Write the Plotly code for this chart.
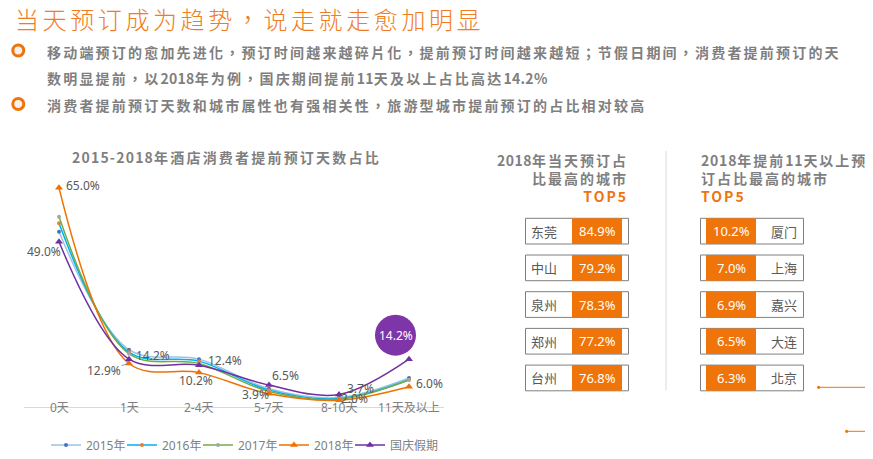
import re
import plotly.graph_objects as go

# ---------------- data ----------------
categories = ["0天", "1天", "2-4天", "5-7天", "8-10天", "11天及以上"]
series_names = ["2015年", "2016年", "2017年", "2018年", "国庆假期"]
v2015 = [52.0, 17.0, 14.2, 5.4, 2.8, 8.6]
v2016 = [54.5, 16.3, 13.6, 5.0, 2.5, 8.1]
v2017 = [56.4, 15.8, 12.9, 4.6, 2.3, 8.0]
v2018 = [65.0, 12.9, 10.2, 3.9, 2.0, 6.0]
v_holiday = [49.0, 14.2, 12.4, 6.5, 3.7, 14.2]

same_day_cities = ["东莞", "中山", "泉州", "郑州", "台州"]
same_day_share = [84.9, 79.2, 78.3, 77.2, 76.8]
early_cities = ["厦门", "上海", "嘉兴", "大连", "北京"]
early_share = [10.2, 7.0, 6.9, 6.5, 6.3]

page_title = "当天预订成为趋势，说走就走愈加明显"
bullet1_lines = ["移动端预订的愈加先进化，预订时间越来越碎片化，提前预订时间越来越短；节假日期间，消费者提前预订的天",
                 "数明显提前，以2018年为例，国庆期间提前11天及以上占比高达14.2%"]
bullet2_lines = ["消费者提前预订天数和城市属性也有强相关性，旅游型城市提前预订的占比相对较高"]
chart_title = "2015-2018年酒店消费者提前预订天数占比"
panel1_title = ["2018年当天预订占", "比最高的城市", "TOP5"]
panel2_title = ["2018年提前11天以上预", "订占比最高的城市", "TOP5"]

# ---------------- layout constants ----------------
# the page body has an 8px margin, so the figure is drawn 8px in from the top-left
OFF = 8
PAGE_W, PAGE_H = 873, 459
W, H = PAGE_W - OFF, PAGE_H - OFF
PL, PT, PR, PB = 24, 171, 444, 407          # plot area in page pixels
ML, MT = PL - OFF, PT - OFF
MR, MB = W - (PR - OFF), H - (PB - OFF)
PW, PH = PR - PL, PB - PT

ORANGE = "#EF7409"
GRAY = "#7F7F7F"
DARK = "#595959"
CJK = "Noto Sans CJK TC"
NUM = "Noto Sans, Noto Sans CJK TC"


def px(x):
    return (x - PL) / PW


def py(y):
    return 1 - (y - PT) / PH


def ls(t, sp, sp_ascii=0.3):
    out = []
    for run in re.findall(r"[\x00-\x7f]+|[^\x00-\x7f]+", t):
        s = sp_ascii if run[0] < "\x80" else sp
        out.append(f'<span style="letter-spacing:{s}px">{run}</span>')
    return "".join(out)


styles = [
    dict(line="#9DC3E6", marker="#4472C4", symbol="circle", size=4),
    dict(line="#00B0F0", marker="#ED7D31", symbol="circle", size=4),
    dict(line="#70AD47", marker="#A5A5A5", symbol="circle", size=4),
    dict(line="#F07000", marker="#F07000", symbol="triangle-up", size=7),
    dict(line="#7030A0", marker="#7030A0", symbol="triangle-up", size=7),
]
all_series = [v2015, v2016, v2017, v2018, v_holiday]
legend_ids = ["legend", "legend2", "legend3", "legend4", "legend5"]
legend_text_x = [86, 162, 238, 314, 390]     # page px where each legend text starts

fig = go.Figure()
for name, vals, st, lid in zip(series_names, all_series, styles, legend_ids):
    fig.add_trace(go.Scatter(
        x=categories, y=vals, name=name, mode="lines+markers", legend=lid,
        line=dict(color=st["line"], width=1.5, shape="spline", smoothing=1.0),
        marker=dict(color=st["marker"], symbol=st["symbol"], size=st["size"]),
        cliponaxis=False, hoverinfo="skip"))

annotations = []
shapes = []

# category labels sitting on the axis line
for c in categories:
    annotations.append(dict(x=c, y=0, xref="x", yref="y", text=c, showarrow=False,
                            yanchor="middle", font=dict(family=NUM, size=12, color="#808080")))

# data labels (offsets in px)
lab_font = dict(family=NUM, size=12, color=DARK)
off_2018 = {0: (5, 2.5, "left"), 2: (-3, -7.5, "center"), 3: (1.7, -1, "right"),
            4: (31, 2, "right"), 5: (5.3, 2.8, "left")}
off_hol = {0: (4, -9.5, "right"), 1: (5, 3.4, "left"), 2: (7, 5, "left"),
           3: (1, 9.4, "left"), 4: (6, 6.2, "left")}
for i, (dx, dy, anc) in off_2018.items():
    annotations.append(dict(x=categories[i], y=v2018[i], xref="x", yref="y", text=f"{v2018[i]:.1f}%",
                            showarrow=False, xanchor=anc, yanchor="middle", xshift=dx, yshift=dy, font=lab_font))
for i, (dx, dy, anc) in off_hol.items():
    annotations.append(dict(x=categories[i], y=v_holiday[i], xref="x", yref="y", text=f"{v_holiday[i]:.1f}%",
                            showarrow=False, xanchor=anc, yanchor="middle", xshift=dx, yshift=dy, font=lab_font))
# 12.9% with leader line
annotations.append(dict(x=categories[1], y=v2018[1], xref="x", yref="y", text=f"{v2018[1]:.1f}%",
                        showarrow=True, arrowhead=0, arrowwidth=0.8, arrowcolor=GRAY, ax=-25, ay=7,
                        standoff=1, font=lab_font, borderpad=0))
# bubble callout for holiday 11天+
bi = len(categories) - 1
shapes.append(dict(type="circle", xref="x", yref="y", xsizemode="pixel", ysizemode="pixel",
                   xanchor=categories[bi], yanchor=v_holiday[bi],
                   x0=-13.5 - 20.5, x1=-13.5 + 20.5, y0=24 - 20.5, y1=24 + 20.5,
                   fillcolor="#7E35A8", line=dict(width=0), layer="above"))
annotations.append(dict(x=categories[bi], y=v_holiday[bi], xref="x", yref="y", text=f"{v_holiday[bi]:.1f}%",
                        showarrow=False, xshift=-13.5, yshift=24, yanchor="middle",
                        font=dict(family=NUM, size=12, color="white")))

# page title
annotations.append(dict(x=px(13), y=py(18.5), xref="paper", yref="paper", xanchor="left", yanchor="middle",
                        text=ls(page_title, 3.6), showarrow=False,
                        font=dict(family=CJK, size=24, color="#F07D23", weight=300)))

# bullets
bfont = dict(family=CJK, size=14, color=GRAY, weight="bold")
line_y = [51.5, 78, 105]
texts = bullet1_lines + bullet2_lines
for t, yv in zip(texts, line_y):
    annotations.append(dict(x=px(45), y=py(yv), xref="paper", yref="paper", xanchor="left", yanchor="middle",
                            text=ls(t, 2.2), showarrow=False, font=bfont))
for yv in (line_y[0], line_y[2]):
    shapes.append(dict(type="circle", xref="paper", yref="paper",
                       x0=px(18.3 - 5.5), x1=px(18.3 + 5.5), y0=py(yv - 1 + 5.5), y1=py(yv - 1 - 5.5),
                       fillcolor="#F2F2F2", line=dict(color=ORANGE, width=3)))

# chart title
annotations.append(dict(x=px(226), y=py(157), xref="paper", yref="paper", xanchor="center", yanchor="middle",
                        text=ls(chart_title, 2.2, 1.2), showarrow=False,
                        font=dict(family=CJK, size=14, color=GRAY, weight="bold")))

# panel titles
ptfont = dict(family=CJK, size=14, color=GRAY, weight="bold")
p1 = "<br>".join([ls(panel1_title[0], 2, 0.5), ls(panel1_title[1], 2),
                  f'<span style="color:{ORANGE};letter-spacing:2px">{panel1_title[2]}</span>'])
annotations.append(dict(x=px(630), y=py(148), xref="paper", yref="paper", xanchor="right", yanchor="top",
                        align="right", text=p1, showarrow=False, font=ptfont))
p2 = "<br>".join([ls(panel2_title[0], 2, 0.8), ls(panel2_title[1], 2),
                  f'<span style="color:{ORANGE};letter-spacing:2px">{panel2_title[2]}</span>'])
annotations.append(dict(x=px(699), y=py(148), xref="paper", yref="paper", xanchor="left", yanchor="top",
                        align="left", text=p2, showarrow=False, font=ptfont))

# tables
ROW0, STEP, RH = 218.3, 36.7, 25.7
cell_font = dict(family=CJK, size=13, color=DARK)
val_font = dict(family=NUM, size=13, color="white")
for i, (city, val) in enumerate(zip(same_day_cities, same_day_share)):
    top = ROW0 + i * STEP
    shapes.append(dict(type="rect", xref="paper", yref="paper", x0=px(525.5), x1=px(628.5),
                       y0=py(top), y1=py(top + RH), line=dict(color=GRAY, width=1), fillcolor="white"))
    shapes.append(dict(type="rect", xref="paper", yref="paper", x0=px(572), x1=px(622),
                       y0=py(top), y1=py(top + RH), line=dict(width=0), fillcolor=ORANGE))
    annotations.append(dict(x=px(529), y=py(top + RH / 2), xref="paper", yref="paper", xanchor="left",
                            yanchor="middle", text=city, showarrow=False, font=cell_font))
    annotations.append(dict(x=px(597), y=py(top + RH / 2), xref="paper", yref="paper", xanchor="center",
                            yanchor="middle", text=f"{val:.1f}%", showarrow=False, font=val_font))
for i, (city, val) in enumerate(zip(early_cities, early_share)):
    top = ROW0 + i * STEP
    shapes.append(dict(type="rect", xref="paper", yref="paper", x0=px(700.5), x1=px(803.5),
                       y0=py(top), y1=py(top + RH), line=dict(color=GRAY, width=1), fillcolor="white"))
    shapes.append(dict(type="rect", xref="paper", yref="paper", x0=px(706), x1=px(756),
                       y0=py(top), y1=py(top + RH), line=dict(width=0), fillcolor=ORANGE))
    annotations.append(dict(x=px(799), y=py(top + RH / 2), xref="paper", yref="paper", xanchor="right",
                            yanchor="middle", text=city, showarrow=False, font=cell_font))
    annotations.append(dict(x=px(731), y=py(top + RH / 2), xref="paper", yref="paper", xanchor="center",
                            yanchor="middle", text=f"{val:.1f}%", showarrow=False, font=val_font))

# divider
shapes.append(dict(type="line", xref="paper", yref="paper", x0=px(666), x1=px(666), y0=py(151), y1=py(390),
                   line=dict(color="#D9D9D9", width=1)))
# decorative orange lines
for (sx, sy) in [(818.7, 387.3), (846.7, 431.3)]:
    shapes.append(dict(type="line", xref="paper", yref="paper", x0=px(sx), x1=px(PAGE_W), y0=py(sy), y1=py(sy),
                       line=dict(color=ORANGE, width=1)))
    shapes.append(dict(type="circle", xref="paper", yref="paper", x0=px(sx - 1.6), x1=px(sx + 1.6),
                       y0=py(sy - 1.6), y1=py(sy + 1.6), fillcolor=ORANGE, line=dict(width=0)))

legend_layout = {}
for lid, tx in zip(legend_ids, legend_text_x):
    legend_layout[lid] = dict(orientation="h", x=px(tx - 40), y=py(445), xanchor="left", yanchor="middle",
                              font=dict(family=NUM, size=12, color=GRAY), itemwidth=30,
                              bgcolor="rgba(0,0,0,0)")

fig.update_layout(
    width=W, height=H,
    margin=dict(l=ML, r=MR, t=MT, b=MB, pad=0, autoexpand=False),
    paper_bgcolor="white", plot_bgcolor="white",
    font=dict(family=CJK, size=12, color=GRAY),
    showlegend=True,
    xaxis=dict(type="category", range=[-0.5, len(categories) - 0.5], showline=True, linecolor="#D9D9D9",
               linewidth=1, showgrid=False, zeroline=False, showticklabels=False, ticks="", fixedrange=True),
    yaxis=dict(range=[0, 70], visible=False, showgrid=False, zeroline=False, fixedrange=True),
    annotations=annotations, shapes=shapes,
    hovermode=False,
    **legend_layout,
)

fig.write_html("out.html")
